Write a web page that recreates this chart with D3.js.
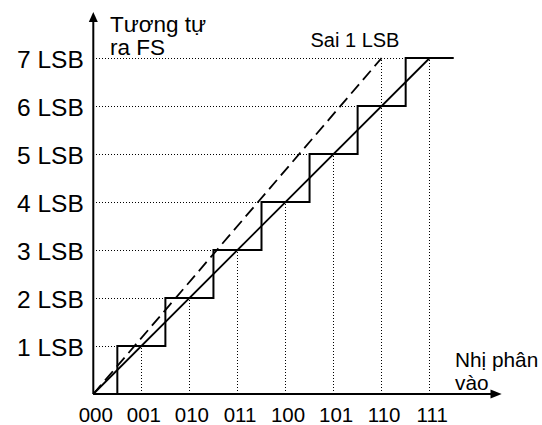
<!DOCTYPE html>
<html>
<head>
<meta charset="utf-8">
<script src="https://cdn.jsdelivr.net/npm/d3@7"></script>
<style>
  html, body { margin: 0; padding: 0; background: #fff; }
  svg { display: block; font-family: "Liberation Sans", Arial, sans-serif; }
</style>
</head>
<body>
<svg id="chart" width="542" height="425"></svg>
<script>
// Digital input codes along the horizontal axis
const codes = ["000", "001", "010", "011", "100", "101", "110", "111"];
// Analog output levels along the vertical axis
const levelLabels = ["1 LSB", "2 LSB", "3 LSB", "4 LSB", "5 LSB", "6 LSB", "7 LSB"];
const levelValues = [1, 2, 3, 4, 5, 6, 7];
// Staircase transfer: output jumps to level k at input k - 0.5
const stepInputs = [0, 0.5, 1.5, 2.5, 3.5, 4.5, 5.5, 6.5, 7.5];
const stepOutputs = [0, 1, 2, 3, 4, 5, 6, 7, 7];
// Ideal line and the line offset by one LSB
const idealLine = [[0, 0], [7, 7]];
const offsetLine = [[0, 0], [6, 7]];
// Height reached by each vertical guide above codes 001..111
const guideTops = [1, 2, 3, 4, 5, 7, 7];

const svg = d3.select("#chart");
const x = d3.scaleLinear().domain([0, 7]).range([93.3, 429.7]);
const y = d3.scaleLinear().domain([0, 7]).range([394, 58]);

const ink = "#000";

// Dotted guides: horizontal from the axis to the step rise
svg.append("g").attr("shape-rendering", "crispEdges")
  .selectAll("line").data(levelValues).join("line")
  .attr("x1", x(0)).attr("x2", d => x(d - 0.5))
  .attr("y1", d => y(d)).attr("y2", d => y(d))
  .attr("stroke", ink).attr("stroke-width", 1).attr("stroke-dasharray", "1,2");

// Dotted guides: vertical from each code up to its level
svg.append("g").attr("shape-rendering", "crispEdges")
  .selectAll("line").data(guideTops).join("line")
  .attr("x1", (d, i) => x(i + 1)).attr("x2", (d, i) => x(i + 1))
  .attr("y1", y(0)).attr("y2", d => y(d))
  .attr("stroke", ink).attr("stroke-width", 1).attr("stroke-dasharray", "1,2");

// Offset (1 LSB error) line, dashed
const lineGen = d3.line().x(d => x(d[0])).y(d => y(d[1]));
svg.append("path").datum(offsetLine).attr("d", lineGen)
  .attr("fill", "none").attr("stroke", ink).attr("stroke-width", 1.8)
  .attr("stroke-dasharray", "12,6");

// Ideal line
svg.append("path").datum(idealLine).attr("d", lineGen)
  .attr("fill", "none").attr("stroke", ink).attr("stroke-width", 1.8);

// Staircase output: run along at the previous level, then rise
const stair = d3.line().curve(d3.curveStepAfter)
  .x((d, i) => x(stepInputs[i])).y(d => y(d));
svg.append("path").datum(stepOutputs).attr("d", stair)
  .attr("fill", "none").attr("stroke", ink).attr("stroke-width", 2);

// Axes with arrowheads
svg.append("line").attr("x1", x(0)).attr("x2", 492).attr("y1", y(0)).attr("y2", y(0))
  .attr("stroke", ink).attr("stroke-width", 2);
svg.append("path").attr("d", `M501.7,${y(0)} L490.5,${y(0) - 4.5} L490.5,${y(0) + 4.5} Z`).attr("fill", ink);
svg.append("line").attr("x1", x(0)).attr("x2", x(0)).attr("y1", y(0)).attr("y2", 21)
  .attr("stroke", ink).attr("stroke-width", 2);
svg.append("path").attr("d", `M${x(0)},12 L${x(0) - 4.5},22 L${x(0) + 4.5},22 Z`).attr("fill", ink);

// Tick labels through d3 axes
const xAxis = d3.axisBottom(x).tickValues(d3.range(codes.length))
  .tickFormat(i => codes[i]).tickSize(0).tickPadding(13.5);
const gx = svg.append("g").attr("transform", `translate(2,${y(0)})`).call(xAxis);
gx.select(".domain").remove();
gx.attr("font-family", null);
gx.selectAll("text").attr("font-size", 20.5).attr("fill", ink);

const yAxis = d3.axisLeft(y).tickValues(levelValues)
  .tickFormat((d, i) => levelLabels[i]).tickSize(0).tickPadding(9.5);
const gy = svg.append("g").attr("transform", `translate(${x(0)},0)`).call(yAxis);
gy.select(".domain").remove();
gy.attr("font-family", null);
gy.selectAll("text").attr("font-size", 24.5).attr("fill", ink).attr("dy", "0.37em");

// Axis titles and annotation
const txt = (s, tx, ty, size) => svg.append("text").attr("x", tx).attr("y", ty)
  .attr("font-size", size).attr("fill", ink).text(s);
txt("Tương tự", 110, 31.5, 22.5);
txt("ra FS", 110, 55, 22.5);
txt("Sai 1 LSB", 310.5, 46.5, 20);
txt("Nhị phân", 455, 366.5, 20.8);
txt("vào", 455, 390, 20.8);
</script>
</body>
</html>
